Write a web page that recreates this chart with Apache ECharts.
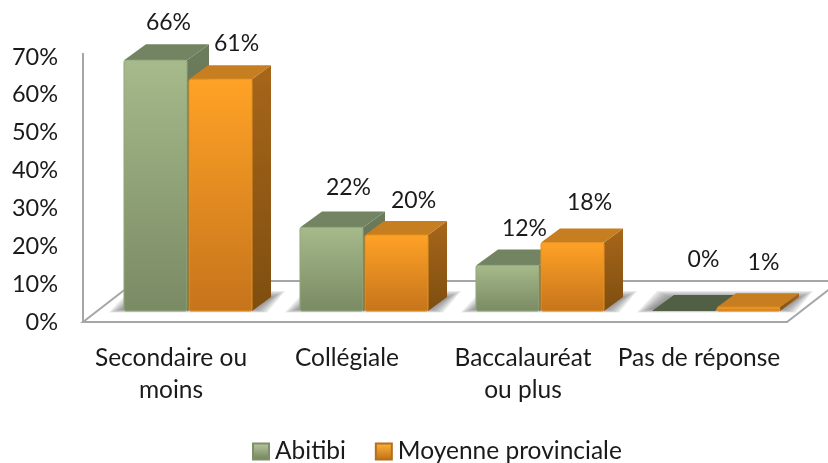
<!DOCTYPE html>
<html>
<head>
<meta charset="utf-8">
<style>html,body{margin:0;padding:0;background:#fff}#c{width:828px;height:463px}</style>
<script src="https://cdn.jsdelivr.net/npm/echarts@6/dist/echarts.min.js"></script>
</head>
<body>
<div id="c"></div>
<script>
const categories = ['Secondaire ou\nmoins', 'Collégiale', 'Baccalauréat\nou plus', 'Pas de réponse'];
const abitibi = [66, 22, 12, 0];
const moyenne = [61, 20, 18, 1];
const yTicks = [0, 10, 20, 30, 40, 50, 60, 70];

const FONT = 'Lato, Carlito, Calibri, sans-serif';
const TXT = '#1a1a1a';
const grad = (a, b) => ({type: 'linear', x: 0, y: 0, x2: 0, y2: 1, colorStops: [{offset: 0, color: a}, {offset: 1, color: b}]});

const styles = {
  green: {dx: 22, dy: -16, nudge: [[-4, -1], [0, -3], [0, 0], [3, -5]], front: grad('#a6ba8b', '#7a8a64'), stroke: '#93a67b', top: '#738462', side: grad('#6c7d5c', '#54624a'), flat: '#515f45', legend: grad('#bccba4', '#6f8059')},
  orange: {dx: 19, dy: -14, nudge: [[-1, 1], [0, 3], [0, -3], [-2, 1]], front: grad('#ffa226', '#c6741c'), stroke: '#e6921f', top: '#c67e20', side: grad('#a7661a', '#7e4e10'), flat: '#c47c1e', legend: grad('#ffb83a', '#c06c18')}
};

function bar3d(style, side) {
  return function (params, api) {
    const i = api.value(0), v = api.value(1);
    const base = api.coord([i, 0]);
    const topP = api.coord([i, v]);
    const band = api.size([1, 0])[0];
    const w = band * 0.358;
    const x0 = side < 0 ? base[0] - w - 1 : base[0] + 1;
    const x1 = x0 + w;
    const yB = base[1], yT = topP[1];
    const dx = style.dx, dy = style.dy;
    const children = [];
    children.push({type: 'polygon', shape: {points: [[x1, yT], [x1 + dx, yT + dy], [x1 + dx, yB + dy], [x1, yB]]}, style: {fill: style.side}});
    children.push({type: 'polygon', shape: {points: [[x0, yT], [x0 + dx, yT + dy], [x1 + dx, yT + dy], [x1, yT]]}, style: {fill: v === 0 ? style.flat : style.top}});
    if (v > 0) {
      children.push({type: 'rect', shape: {x: x0, y: yT, width: w, height: yB - yT, r: 2}, style: {fill: style.front, stroke: style.stroke, lineWidth: 1}});
    }
    const lift = v < 2 ? 9 : 0;
    const n = style.nudge[i];
    children.push({type: 'text', silent: true, style: {
      x: (x0 + x1) / 2 + 17 + n[0], y: yT - 15 - 22 - lift + n[1],
      text: v + '%', fill: TXT, font: '23px ' + FONT, align: 'center', verticalAlign: 'middle'}});
    return {type: 'group', children};
  };
}

function floor(params, api) {
  const o = api.coord([0, 0]);
  const cs = params.coordSys;
  const x0 = cs.x, x1 = cs.x + cs.width, y0 = o[1];
  const dx = 53, dy = -41;
  const line = {stroke: '#a6a6a6', lineWidth: 2, fill: null};
  return {type: 'group', children: [
    {type: 'polygon', shape: {points: [[x0, y0], [x0 + dx, y0 + dy], [x1 + dx, y0 + dy], [x1, y0]]}, style: {fill: '#fff', stroke: '#a6a6a6', lineWidth: 2}},
    {type: 'polyline', shape: {points: [[x0, y0], [x0, cs.y - 4]]}, style: line}
  ]};
}

function floorShadow(params, api) {
  const base = api.coord([api.value(0), 0]);
  const band = api.size([1, 0])[0];
  const w = band * 0.358;
  const l = base[0] - w, r = base[0] + w, y = base[1];
  const children = [];
  for (let k = 7; k >= 0; k--) {
    const ex = k * 2, up = k * 1.0, dn = k * 0.5;
    children.push({type: 'polygon', silent: true,
      shape: {points: [[l - 2 - ex, y - 2 + dn], [r + 2 + ex, y - 2 + dn], [r + 20 + ex, y - 13 - up], [l + 18 - ex, y - 13 - up]]},
      style: {fill: 'rgba(105,105,105,0.14)'}});
  }
  return {type: 'group', children};
}

const chart = echarts.init(document.getElementById('c'), null, {renderer: 'canvas'});
chart.setOption({
  animation: false,
  backgroundColor: '#fff',
  grid: [
    {left: 83, right: 41, top: 57, bottom: 141},
    {left: 100, right: 24, top: 45, bottom: 152}
  ],
  xAxis: [
    {type: 'category', gridIndex: 0, data: categories, axisTick: {show: false},
      axisLine: {show: false},
      axisLabel: {interval: 0, margin: 20, lineHeight: 32, fontFamily: FONT, fontSize: 24.5, color: TXT, verticalAlign: 'top'}},
    {type: 'category', gridIndex: 1, data: categories, show: false}
  ],
  yAxis: [
    {type: 'value', gridIndex: 0, min: yTicks[0], max: yTicks[yTicks.length - 1], interval: 10,
      axisLine: {show: false}, axisTick: {show: false}, splitLine: {show: false},
      axisLabel: {formatter: '{value}%', margin: 25, fontFamily: FONT, fontSize: 23.5, color: TXT}},
    {type: 'value', gridIndex: 1, min: 0, max: 70, interval: 10, show: false}
  ],
  legend: {
    data: ['Abitibi', 'Moyenne provinciale'], left: 247, top: 434, itemWidth: 16, itemHeight: 16, itemGap: 29, icon: 'rect',
    textStyle: {fontFamily: FONT, fontSize: 24.5, color: TXT, padding: [0, 0, 0, 1]}
  },
  series: [
    {type: 'custom', name: 'floor', xAxisIndex: 0, yAxisIndex: 0, data: [[0, 0]], clip: false, z: 1, silent: true,
      renderItem: floor, encode: {x: 0, y: 1}},
    {type: 'custom', name: 'shadow', xAxisIndex: 1, yAxisIndex: 1, data: categories.map((c, i) => [i, 0]), clip: false, z: 2, silent: true,
      renderItem: floorShadow, encode: {x: 0, y: 1}},
    {type: 'custom', name: 'Abitibi', xAxisIndex: 1, yAxisIndex: 1, clip: false, z: 3,
      itemStyle: {color: styles.green.legend, borderColor: '#7f8f6b', borderWidth: 1},
      data: abitibi.map((v, i) => [i, v]), renderItem: bar3d(styles.green, -1), encode: {x: 0, y: 1}},
    {type: 'custom', name: 'Moyenne provinciale', xAxisIndex: 1, yAxisIndex: 1, clip: false, z: 4,
      itemStyle: {color: styles.orange.legend, borderColor: '#b56f1c', borderWidth: 1},
      data: moyenne.map((v, i) => [i, v]), renderItem: bar3d(styles.orange, 1), encode: {x: 0, y: 1}}
  ]
});
</script>
</body>
</html>
